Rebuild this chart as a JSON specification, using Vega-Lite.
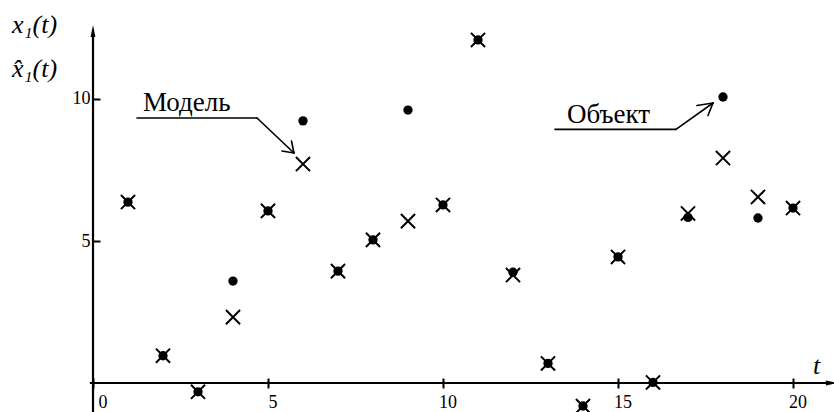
{
  "$schema": "https://vega.github.io/schema/vega-lite/v6.json",
  "width": 834,
  "height": 412,
  "autosize": "none",
  "padding": 0,
  "background": "white",
  "config": {"view": {"stroke": null}},
  "datasets": {
    "pts": [
      {"t": 1, "obj": 6.37, "model": 6.37},
      {"t": 2, "obj": 0.96, "model": 0.96},
      {"t": 3, "obj": -0.31, "model": -0.31},
      {"t": 4, "obj": 3.59, "model": 2.32},
      {"t": 5, "obj": 6.06, "model": 6.06},
      {"t": 6, "obj": 9.23, "model": 7.71},
      {"t": 7, "obj": 3.94, "model": 3.94},
      {"t": 8, "obj": 5.04, "model": 5.04},
      {"t": 9, "obj": 9.61, "model": 5.70},
      {"t": 10, "obj": 6.27, "model": 6.27},
      {"t": 11, "obj": 12.08, "model": 12.08},
      {"t": 12, "obj": 3.90, "model": 3.80},
      {"t": 13, "obj": 0.69, "model": 0.69},
      {"t": 14, "obj": -0.81, "model": -0.81},
      {"t": 15, "obj": 4.44, "model": 4.44},
      {"t": 16, "obj": 0.02, "model": 0.02},
      {"t": 17, "obj": 5.83, "model": 5.97},
      {"t": 18, "obj": 10.07, "model": 7.92},
      {"t": 19, "obj": 5.81, "model": 6.55},
      {"t": 20, "obj": 6.16, "model": 6.16}
    ],
    "axlines": [
      {"t1": 0, "v1": -1.1, "t2": 0, "v2": 12.2},
      {"t1": -0.09, "v1": 0, "t2": 21.0, "v2": 0}
    ],
    "axarrows": [
      {"t": 0, "v": 12.394, "dir": "up"},
      {"t": 21.11, "v": 0, "dir": "right"}
    ],
    "annlines": [
      {"t1": 1.257, "v1": 9.331, "t2": 4.686, "v2": 9.331},
      {"t1": 4.686, "v1": 9.331, "t2": 5.743, "v2": 8.099},
      {"t1": 5.4, "v1": 8.169, "t2": 5.743, "v2": 8.099},
      {"t1": 5.671, "v1": 8.521, "t2": 5.743, "v2": 8.099},
      {"t1": 13.2, "v1": 8.93, "t2": 16.657, "v2": 8.93},
      {"t1": 16.657, "v1": 8.93, "t2": 17.714, "v2": 9.859},
      {"t1": 17.257, "v1": 9.771, "t2": 17.714, "v2": 9.859},
      {"t1": 17.571, "v1": 9.419, "t2": 17.714, "v2": 9.859}
    ],
    "anntext": [
      {"t": 1.429, "v": 9.588, "label": "Модель"},
      {"t": 13.543, "v": 9.155, "label": "Объект"}
    ],
    "mathtext": [
      {"t": -2.314, "v": 12.606, "label": "x₁(t)"},
      {"t": -2.314, "v": 11.056, "label": "x̂₁(t)"},
      {"t": 20.57, "v": 0.6, "label": "t"}
    ]
  },
  "layer": [
    {
      "data": {"name": "axlines"},
      "mark": {"type": "rule", "color": "black", "strokeWidth": 2.2},
      "encoding": {
        "x": {
          "field": "t1", "type": "quantitative",
          "scale": {"domain": [-2.6571, 21.1714], "nice": false, "zero": false},
          "axis": {
            "values": [0, 5, 10, 15, 20],
            "domain": false, "grid": false, "title": null,
            "offset": -24, "tickSize": -10, "tickWidth": 2, "tickColor": "black",
            "labelPadding": 15.8, "labelFont": "Liberation Serif, Times New Roman, DejaVu Serif, serif", "labelFontSize": 18,
            "labelColor": "black", "labelAlign": "center",
            "labelOffset": {"condition": {"test": "datum.value === 0", "value": 9.5}, "value": 4.5},
            "labelFlush": false, "labelOverlap": false
          }
        },
        "y": {
          "field": "v1", "type": "quantitative",
          "scale": {"domain": [-1.0211, 13.4859], "nice": false, "zero": false},
          "axis": {
            "values": [5, 10],
            "domain": false, "grid": false, "title": null,
            "offset": -93, "tickSize": -7, "tickWidth": 2, "tickColor": "black",
            "labelPadding": 10, "labelFont": "Liberation Serif, Times New Roman, DejaVu Serif, serif", "labelFontSize": 18,
            "labelColor": "black", "labelAlign": "right", "labelBaseline": "middle", "labelDy": 3,
            "labelFlush": false, "labelOverlap": false
          }
        },
        "x2": {"field": "t2"},
        "y2": {"field": "v2"}
      }
    },
    {
      "data": {"name": "axarrows"},
      "transform": [{"filter": "datum.dir === 'up'"}],
      "mark": {"type": "point", "shape": "M0,-1L0.4,1L-0.4,1Z", "filled": true, "color": "black", "size": 144, "opacity": 1},
      "encoding": {
        "x": {"field": "t", "type": "quantitative"},
        "y": {"field": "v", "type": "quantitative"}
      }
    },
    {
      "data": {"name": "axarrows"},
      "transform": [{"filter": "datum.dir === 'right'"}],
      "mark": {"type": "point", "shape": "M1,0L-1,0.4L-1,-0.4Z", "filled": true, "color": "black", "size": 144, "opacity": 1},
      "encoding": {
        "x": {"field": "t", "type": "quantitative"},
        "y": {"field": "v", "type": "quantitative"}
      }
    },
    {
      "data": {"name": "annlines"},
      "mark": {"type": "rule", "color": "black", "strokeWidth": 1.6, "strokeCap": "round"},
      "encoding": {
        "x": {"field": "t1", "type": "quantitative"},
        "y": {"field": "v1", "type": "quantitative"},
        "x2": {"field": "t2"},
        "y2": {"field": "v2"}
      }
    },
    {
      "data": {"name": "anntext"},
      "mark": {"type": "text", "font": "Liberation Serif, Times New Roman, DejaVu Serif, serif", "fontSize": 27, "color": "black", "align": "left", "baseline": "alphabetic"},
      "encoding": {
        "x": {"field": "t", "type": "quantitative"},
        "y": {"field": "v", "type": "quantitative"},
        "text": {"field": "label"}
      }
    },
    {
      "data": {"name": "mathtext"},
      "mark": {"type": "text", "font": "Liberation Serif, Times New Roman, DejaVu Serif, serif", "fontSize": 26, "fontStyle": "italic", "color": "black", "align": "left", "baseline": "middle"},
      "encoding": {
        "x": {"field": "t", "type": "quantitative"},
        "y": {"field": "v", "type": "quantitative"},
        "text": {"field": "label"}
      }
    },
    {
      "data": {"name": "pts"},
      "mark": {"type": "point", "shape": "circle", "filled": true, "color": "black", "size": 87, "opacity": 1},
      "encoding": {
        "x": {"field": "t", "type": "quantitative"},
        "y": {"field": "obj", "type": "quantitative"}
      }
    },
    {
      "data": {"name": "pts"},
      "mark": {"type": "point", "shape": "M-1,-1L1,1M-1,1L1,-1", "filled": false, "color": "black", "strokeWidth": 2, "size": 200, "opacity": 1},
      "encoding": {
        "x": {"field": "t", "type": "quantitative"},
        "y": {"field": "model", "type": "quantitative"}
      }
    }
  ]
}
